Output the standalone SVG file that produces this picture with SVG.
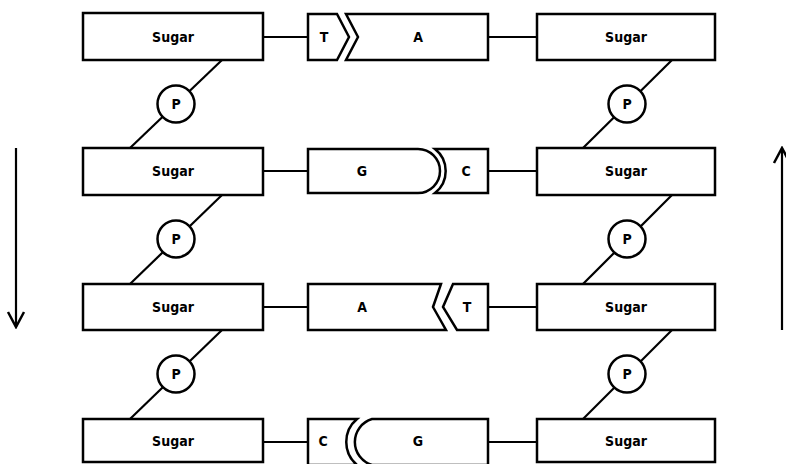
<svg xmlns="http://www.w3.org/2000/svg" width="786" height="464" viewBox="0 0 786 464">
  <style>
    .box { fill: #fff; stroke: #000; stroke-width: 2.5; stroke-linejoin: miter; }
    .ln { fill: none; stroke: #000; stroke-width: 2.2; }
    .lbl { font-family: "DejaVu Sans Condensed", "DejaVu Sans", "Liberation Sans", sans-serif; font-weight: bold; font-size: 14px; text-anchor: middle; dominant-baseline: central; fill: #000; }
  </style>
  <defs>
    <!-- open V arrowhead drawn along +x, tip at the line end -->
    <marker id="head" viewBox="0 0 20 20" refX="18" refY="10" markerWidth="20" markerHeight="20" markerUnits="userSpaceOnUse" orient="auto">
      <path d="M3,2 L18,10 L3,18" fill="none" stroke="#000" stroke-width="2.5"/>
    </marker>
  </defs>

  <!-- backbone links, base-pair stubs and strand direction arrows -->
  <g id="connectors">
    <line class="ln" x1="222" y1="60" x2="130" y2="148"/>
    <line class="ln" x1="222" y1="195" x2="130" y2="284"/>
    <line class="ln" x1="222" y1="330" x2="130" y2="419"/>
    <line class="ln" x1="583" y1="148" x2="672" y2="60"/>
    <line class="ln" x1="583" y1="284" x2="672" y2="195"/>
    <line class="ln" x1="583" y1="419" x2="672" y2="330"/>

    <line class="ln" x1="263" y1="37" x2="308" y2="37"/>
    <line class="ln" x1="488" y1="37" x2="537" y2="37"/>
    <line class="ln" x1="263" y1="171" x2="308" y2="171"/>
    <line class="ln" x1="488" y1="171" x2="537" y2="171"/>
    <line class="ln" x1="263" y1="307" x2="308" y2="307"/>
    <line class="ln" x1="488" y1="307" x2="537" y2="307"/>
    <line class="ln" x1="263" y1="442" x2="308" y2="442"/>
    <line class="ln" x1="488" y1="442" x2="537" y2="442"/>

    <line class="ln" x1="16" y1="148" x2="16" y2="327" marker-end="url(#head)"/>
    <line class="ln" x1="782" y1="330" x2="782" y2="148" marker-end="url(#head)"/>
  </g>

  <!-- left strand sugars -->
  <g id="sugar-l1"><rect class="box" x="83" y="13" width="180" height="47"/><text class="lbl" x="173" y="37">Sugar</text></g>
  <g id="sugar-l2"><rect class="box" x="83" y="148" width="180" height="47"/><text class="lbl" x="173" y="171">Sugar</text></g>
  <g id="sugar-l3"><rect class="box" x="83" y="284" width="180" height="46"/><text class="lbl" x="173" y="307">Sugar</text></g>
  <g id="sugar-l4"><rect class="box" x="83" y="419" width="180" height="43"/><text class="lbl" x="173" y="441">Sugar</text></g>

  <!-- right strand sugars -->
  <g id="sugar-r1"><rect class="box" x="537" y="14" width="178" height="46"/><text class="lbl" x="626" y="37">Sugar</text></g>
  <g id="sugar-r2"><rect class="box" x="537" y="148" width="178" height="47"/><text class="lbl" x="626" y="171">Sugar</text></g>
  <g id="sugar-r3"><rect class="box" x="537" y="284" width="178" height="46"/><text class="lbl" x="626" y="307">Sugar</text></g>
  <g id="sugar-r4"><rect class="box" x="537" y="419" width="178" height="43"/><text class="lbl" x="626" y="441">Sugar</text></g>

  <!-- phosphates -->
  <g id="phos-l1"><circle class="box" cx="176" cy="104" r="18.5"/><text class="lbl" x="176" y="104">P</text></g>
  <g id="phos-l2"><circle class="box" cx="176" cy="239" r="18.5"/><text class="lbl" x="176" y="239">P</text></g>
  <g id="phos-l3"><circle class="box" cx="176" cy="374" r="18.5"/><text class="lbl" x="176" y="374">P</text></g>
  <g id="phos-r1"><circle class="box" cx="627" cy="104" r="18.5"/><text class="lbl" x="627" y="104">P</text></g>
  <g id="phos-r2"><circle class="box" cx="627" cy="239" r="18.5"/><text class="lbl" x="627" y="239">P</text></g>
  <g id="phos-r3"><circle class="box" cx="627" cy="374" r="18.5"/><text class="lbl" x="627" y="374">P</text></g>

  <!-- pair 1: T / A -->
  <g id="base-T1"><path class="box" d="M308,14 H337 L349,37 L337,60 H308 Z"/><text class="lbl" x="324" y="37">T</text></g>
  <g id="base-A1"><path class="box" d="M346,14 H488 V60 H346 L358,37 Z"/><text class="lbl" x="418" y="37">A</text></g>

  <!-- pair 2: G / C -->
  <g id="base-G2"><path class="box" d="M308,149 H418 A22,22 0 0 1 418,193 H308 Z"/><text class="lbl" x="362" y="171">G</text></g>
  <g id="base-C2"><path class="box" d="M435,149 H488 V193 H435 A28,28 0 0 0 435,149 Z"/><text class="lbl" x="466" y="171">C</text></g>

  <!-- pair 3: A / T -->
  <g id="base-A3"><path class="box" d="M308,284 H441 L433,307 L446,330 H308 Z"/><text class="lbl" x="362" y="307">A</text></g>
  <g id="base-T3"><path class="box" d="M453,284 H488 V330 H457 L443,307 Z"/><text class="lbl" x="467" y="307">T</text></g>

  <!-- pair 4: C / G -->
  <g id="base-C4"><path class="box" d="M308,419 H357 A30,30 0 0 0 357,465 H308 Z"/><text class="lbl" x="323" y="441">C</text></g>
  <g id="base-G4"><path class="box" d="M372,419 H488 V465 H372 A24,24 0 0 1 372,419 Z"/><text class="lbl" x="418" y="441">G</text></g>
</svg>
